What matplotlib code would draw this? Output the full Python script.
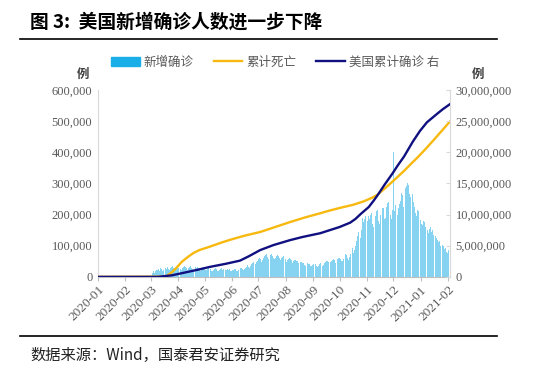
import matplotlib
matplotlib.use("Agg")
import matplotlib.pyplot as plt
import matplotlib.dates as mdates
from matplotlib.patches import Patch
from matplotlib.lines import Line2D
from matplotlib.ticker import FuncFormatter, MultipleLocator
import numpy as np
import pandas as pd

plt.rcParams['font.family'] = ['Noto Sans CJK SC', 'DejaVu Sans']

# 每日新增确诊（千例），从 2020-03-01 起，每行一周
new_cases_k = [
    0, 0, 14, 18, 12, 20, 22,
    16, 21, 25, 19, 27, 24, 18,
    23, 28, 22, 30, 26, 33, 25,
    21, 29, 32, 27, 35, 30, 24,
    26, 31, 34, 29, 36, 32, 25,
    23, 30, 33, 35, 31, 28, 22,
    21, 27, 31, 34, 29, 26, 20,
    23, 28, 32, 27, 33, 29, 22,
    20, 25, 28, 31, 27, 26, 21,
    21, 24, 27, 30, 26, 25, 19,
    18, 23, 26, 28, 24, 27, 20,
    19, 22, 25, 27, 23, 26, 18,
    17, 21, 23, 25, 22, 24, 19,
    18, 20, 23, 22, 26, 25, 19,
    18, 22, 23, 25, 27, 29, 24,
    22, 26, 29, 31, 34, 37, 32,
    30, 36, 40, 44, 47, 50, 43,
    41, 47, 52, 56, 60, 57, 48,
    45, 53, 62, 66, 70, 73, 63,
    57, 63, 67, 70, 72, 68, 61,
    56, 62, 66, 69, 71, 67, 59,
    53, 60, 64, 67, 65, 63, 56,
    49, 54, 57, 59, 56, 55, 48,
    45, 50, 53, 55, 52, 51, 44,
    40, 44, 47, 49, 46, 45, 39,
    36, 40, 43, 45, 42, 41, 35,
    34, 38, 42, 44, 41, 40, 34,
    32, 35, 40, 45, 47, 44, 36,
    38, 44, 48, 50, 52, 49, 41,
    42, 47, 51, 54, 57, 55, 46,
    45, 52, 56, 60, 62, 58, 50,
    50, 58, 63, 68, 72, 70, 60,
    55, 65, 72, 80, 86, 93, 78,
    85, 100, 115, 130, 145, 160, 130,
    125, 150, 189, 175, 185, 195, 160,
    150, 180, 195, 185, 200, 205, 170,
    160, 190, 205, 195, 210, 215, 180,
    170, 200, 215, 205, 220, 222, 185,
    190, 225, 238, 240, 205, 232, 200,
    185, 215, 400, 210, 230, 237, 205,
    200, 222, 235, 245, 270, 262, 225,
    240, 275, 285, 290, 300, 295, 265,
    255, 314, 280, 265, 240, 225, 205,
    195, 215, 210, 200, 190, 183, 170,
    165, 180, 175, 160, 170, 158, 150,
    140, 155, 160, 145, 150, 135, 125,
    118, 130, 125, 119, 112, 115, 100,
    95, 108, 102, 98, 90, 92, 80,
    75, 85, 77,
]

# 累计死亡（千例，左轴）
death_dates = ["2020-01-01", "2020-03-18", "2020-03-25", "2020-03-31", "2020-04-05",
               "2020-04-12", "2020-04-18", "2020-04-25", "2020-05-07", "2020-05-13",
               "2020-05-20", "2020-05-30", "2020-06-15", "2020-07-03", "2020-07-20",
               "2020-08-06", "2020-08-22", "2020-09-09", "2020-09-20", "2020-10-01",
               "2020-10-16", "2020-10-28", "2020-11-07", "2020-11-13", "2020-11-21",
               "2020-12-02", "2020-12-13", "2020-12-20", "2020-12-29", "2021-01-07",
               "2021-01-15", "2021-01-24", "2021-02-01", "2021-02-03"]
death_k = [0, 1, 15, 32, 48, 64, 76, 86, 97, 103, 110, 119, 132, 144, 160,
           176, 190, 204, 213, 221, 231, 242, 254, 264, 283, 311, 340, 360, 385, 412,
           437, 466, 492, 498]

# 美国累计确诊（百万例，右轴）
conf_dates = ["2020-01-01", "2020-03-09", "2020-03-25", "2020-04-12", "2020-04-25",
              "2020-05-07", "2020-05-25", "2020-06-10", "2020-06-20", "2020-07-03",
              "2020-07-18", "2020-08-06", "2020-08-20", "2020-09-09", "2020-09-20",
              "2020-10-01", "2020-10-13", "2020-10-19", "2020-10-25", "2020-11-03",
              "2020-11-09", "2020-11-14", "2020-11-21", "2020-11-30", "2020-12-06",
              "2020-12-13", "2020-12-23", "2020-12-31", "2021-01-08", "2021-01-19",
              "2021-01-26", "2021-02-01", "2021-02-03"]
conf_m = [0, 0, 0.25, 0.8, 1.2, 1.6, 2.1, 2.6, 3.3, 4.3, 5.1, 5.9, 6.4, 7.0, 7.5,
          8.0, 8.7, 9.3, 10.1, 11.2, 12.3, 13.3, 14.8, 16.6, 17.9, 19.3, 21.7, 23.4,
          24.8, 26.1, 26.9, 27.5, 27.7]

blue = '#86d3f1'
yellow = '#f7b90f'
navy = '#101080'
grey = '#595959'
serif = ['Liberation Serif', 'DejaVu Serif']

bar_dates = pd.date_range("2020-03-01", periods=len(new_cases_k), freq="D")
bar_vals = np.array(new_cases_k) * 1000
d_dates = pd.to_datetime(death_dates)
d_vals = np.array(death_k) * 1000
c_dates = pd.to_datetime(conf_dates)
c_vals = np.array(conf_m) * 1e6

fig = plt.figure(figsize=(5.5, 3.84), dpi=100)
ax = fig.add_axes([0.178, 0.279, 0.640, 0.487])
ax2 = ax.twinx()

ax.bar(bar_dates, bar_vals, width=0.9, color=blue, linewidth=0, zorder=1)
ax.plot(d_dates, d_vals, color=yellow, lw=1.7, zorder=3)
ax2.plot(c_dates, c_vals, color=navy, lw=1.7, zorder=3)

ax.set_xlim(pd.Timestamp("2020-01-01"), pd.Timestamp("2021-02-03"))
ax.set_ylim(0, 600000)
ax2.set_ylim(0, 30000000)
ax.yaxis.set_major_locator(MultipleLocator(100000))
ax2.yaxis.set_major_locator(MultipleLocator(5000000))
fmt = FuncFormatter(lambda v, p: f"{int(v):,}")
ax.yaxis.set_major_formatter(fmt)
ax2.yaxis.set_major_formatter(fmt)

ax.xaxis.set_major_locator(mdates.MonthLocator())
ax.xaxis.set_major_formatter(mdates.DateFormatter('%Y-%m'))
for lab in ax.get_xticklabels():
    lab.set_rotation(45)
    lab.set_ha('right')
    lab.set_rotation_mode('anchor')

for a in (ax, ax2):
    a.tick_params(labelsize=9, colors=grey, labelcolor=grey)
    for lab in a.get_xticklabels() + a.get_yticklabels():
        lab.set_family(serif)
    for s in a.spines.values():
        s.set_visible(False)
ax.tick_params(axis='x', labelsize=9.5)
ax.tick_params(axis='y', length=0, pad=4)
ax.tick_params(axis='x', length=3, color='#bfbfbf', pad=2)
ax2.tick_params(axis='y', direction='in', length=3, color='#d9d9d9', pad=4)
ax.spines['left'].set_visible(True)
ax.spines['left'].set_color('#d9d9d9')
ax.spines['bottom'].set_visible(True)
ax.spines['bottom'].set_color('#bfbfbf')
ax2.spines['right'].set_visible(True)
ax2.spines['right'].set_color('#d9d9d9')

handles = [Patch(color='#1aaee8'),
           Line2D([], [], color=yellow, lw=1.7),
           Line2D([], [], color=navy, lw=1.7)]
labels = ['新增确诊', '累计死亡', '美国累计确诊 右']
fig.legend(handles, labels, loc='center', bbox_to_anchor=(0.50, 1 - 62 / 384),
           ncol=3, frameon=False, fontsize=9, labelcolor=grey,
           handlelength=2.3, handletextpad=0.3, columnspacing=1.6)

fig.text(83 / 550, 1 - 74 / 384, '例', fontsize=9, fontweight='bold',
         color='#404040', ha='center', va='center')
fig.text(478 / 550, 1 - 74 / 384, '例', fontsize=9, fontweight='bold',
         color='#404040', ha='center', va='center')

fig.text(30 / 550, 1 - 22 / 384, '图 3:  美国新增确诊人数进一步下降', fontsize=13.5,
         fontweight='bold', color='black', ha='left', va='center')
fig.add_artist(Line2D([20 / 550, 497 / 550], [1 - 39 / 384, 1 - 39 / 384],
                      color='black', lw=1.2))
fig.add_artist(Line2D([20 / 550, 497 / 550], [1 - 336 / 384, 1 - 336 / 384],
                      color='black', lw=1.2))
fig.text(30 / 550, 1 - 355 / 384, '数据来源：Wind，国泰君安证券研究', fontsize=11,
         color='#222222', ha='left', va='center')

fig.savefig('out.png', dpi=100, facecolor='white')
